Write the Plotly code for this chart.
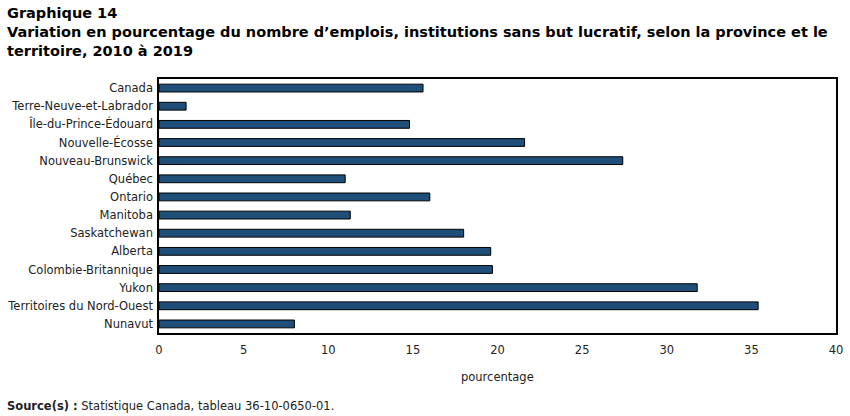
import plotly.graph_objects as go

categories = ["Canada", "Terre-Neuve-et-Labrador", "Île-du-Prince-Édouard", "Nouvelle-Écosse",
              "Nouveau-Brunswick", "Québec", "Ontario", "Manitoba", "Saskatchewan", "Alberta",
              "Colombie-Britannique", "Yukon", "Territoires du Nord-Ouest", "Nunavut"]
values = [15.6, 1.6, 14.8, 21.6, 27.4, 11.0, 16.0, 11.3, 18.0, 19.6, 19.7, 31.8, 35.4, 8.0]
x_ticks = [0, 5, 10, 15, 20, 25, 30, 35, 40]

font = "DejaVu Sans, Verdana, sans-serif"

fig = go.Figure(go.Bar(
    x=values, y=categories, orientation="h",
    marker=dict(color="#1f4e79", line=dict(color="#000000", width=1)),
    hoverinfo="x+y",
))

fig.update_layout(
    width=850, height=416,
    margin=dict(l=159, r=14, t=79, b=83),
    paper_bgcolor="white", plot_bgcolor="white",
    bargap=0.57,
    showlegend=False,
    font=dict(family=font, size=11.5, color="#222222"),
    xaxis=dict(range=[0, 40], tickvals=x_ticks, ticktext=[str(t) for t in x_ticks],
               showgrid=False, zeroline=False, showline=True, mirror=True,
               linecolor="#000000", linewidth=1.5, ticks="", ticklabelstandoff=5,
               automargin=False, fixedrange=True),
    yaxis=dict(autorange="reversed", showgrid=False, zeroline=False, showline=True,
               mirror=True, linecolor="#000000", linewidth=1.5, ticks="",
               ticklabelstandoff=2, automargin=False, fixedrange=True),
    annotations=[
        dict(text="<b>Graphique 14<br>Variation en pourcentage du nombre d’emplois, institutions sans but lucratif, selon la province et le<br>territoire, 2010 à 2019</b>",
             x=0, y=1, xref="paper", yref="paper", xanchor="left", yanchor="top",
             xshift=-154, yshift=76, align="left", showarrow=False,
             font=dict(family="DejaVu Sans, sans-serif", size=14.5, color="#000000")),
        dict(text="pourcentage", x=0.5, y=0, xref="paper", yref="paper",
             xanchor="center", yanchor="middle", yshift=-44, showarrow=False,
             font=dict(family=font, size=11.5, color="#222222")),
        dict(text="<b>Source(s) :</b> Statistique Canada, tableau 36-10-0650-01.",
             x=0, y=0, xref="paper", yref="paper", xanchor="left", yanchor="middle",
             xshift=-154, yshift=-73, showarrow=False, align="left",
             font=dict(family=font, size=11.5, color="#222222")),
    ],
)

fig.write_html("out.html")
